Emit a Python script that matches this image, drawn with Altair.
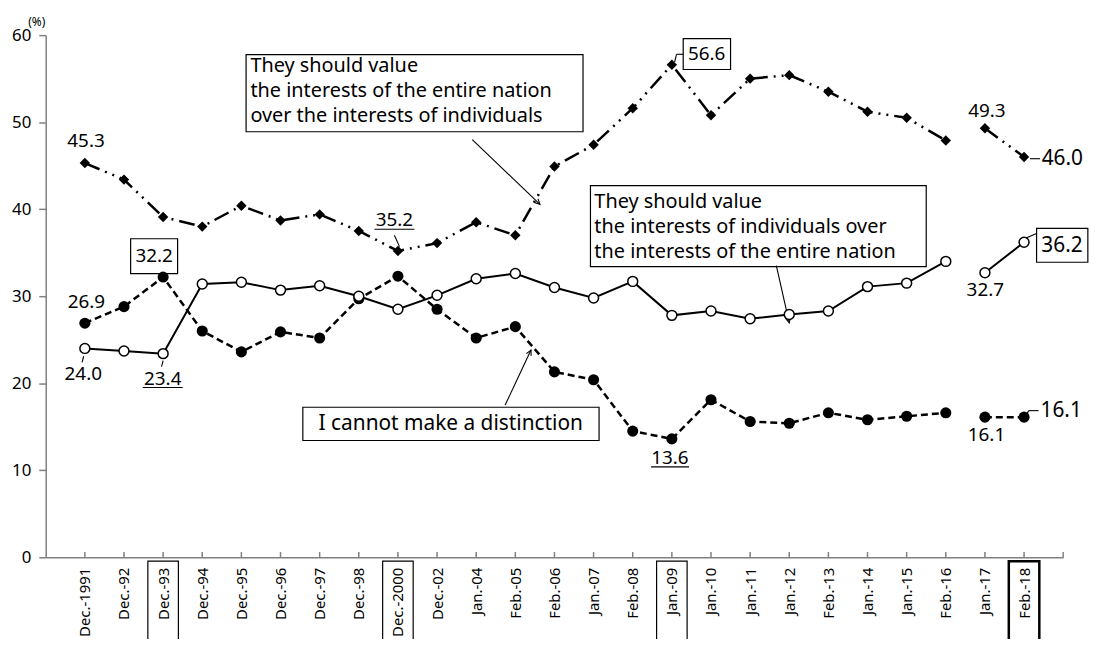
import json, math
import altair as alt
import pandas as pd

# ---------------- data ----------------
labels = ["Dec.-1991", "Dec.-92", "Dec.-93", "Dec.-94", "Dec.-95", "Dec.-96", "Dec.-97",
          "Dec.-98", "Dec.-2000", "Dec.-02", "Jan.-04", "Feb.-05", "Feb.-06", "Jan.-07",
          "Feb.-08", "Jan.-09", "Jan.-10", "Jan.-11", "Jan.-12", "Feb.-13", "Jan.-14",
          "Jan.-15", "Feb.-16", "Jan.-17", "Feb.-18"]
nation = [45.3, 43.4, 39.1, 38.0, 40.4, 38.7, 39.4, 37.5, 35.2, 36.1, 38.5, 37.0, 44.9,
          47.4, 51.6, 56.6, 50.8, 55.0, 55.4, 53.5, 51.2, 50.5, 47.9, 49.3, 46.0]
individuals = [24.0, 23.7, 23.4, 31.4, 31.6, 30.7, 31.2, 30.0, 28.5, 30.1, 32.0, 32.6, 31.0,
               29.8, 31.7, 27.8, 28.3, 27.4, 27.9, 28.3, 31.1, 31.5, 34.0, 32.7, 36.2]
cannot = [26.9, 28.8, 32.2, 26.0, 23.6, 25.9, 25.2, 29.7, 32.3, 28.5, 25.2, 26.5, 21.3,
          20.4, 14.5, 13.6, 18.1, 15.6, 15.4, 16.6, 15.8, 16.2, 16.6, 16.1, 16.1]
break_after = 22  # survey series break between Feb.-16 and Jan.-17
highlighted = ["Dec.-93", "Dec.-2000", "Jan.-09", "Feb.-18"]

box_texts = {
    "nation": ["They should value", "the interests of the entire nation",
               "over the interests of individuals"],
    "indiv": ["They should value", "the interests of individuals over",
              "the interests of the entire nation"],
    "cannot": ["I cannot make a distinction"],
}

# ---------------- layout / style ----------------
W, H = 1025, 526
XS = alt.Scale(domain=[-1, 25], nice=False, zero=False)
YS = alt.Scale(domain=[0, 60], nice=False, zero=False)
FONT = "Noto Sans"
AX = "#808080"
PXX = W / 26.0
PXY = H / 60.0

label_arr = json.dumps(labels)
XAXIS = alt.Axis(values=list(range(-1, 26)),
                 labelExpr=f"datum.value >= 0 && datum.value <= {len(labels)-1} ? {label_arr}[datum.value] : ''",
                 labelAngle=270, tickSize=0, labelPadding=10, labelFontSize=15,
                 labelFont=FONT, labelColor="black", domainColor=AX, domainWidth=1.5,
                 grid=False, title=None, labelOverlap=False, labelFlush=False)
YAXIS = alt.Axis(values=[0, 10, 20, 30, 40, 50, 60], tickSize=7, labelPadding=8,
                 labelFontSize=17, labelFont=FONT, labelColor="black", domainColor=AX,
                 domainWidth=1.5, tickColor=AX, tickWidth=1.5, grid=False, title=None,
                 labelFlush=False)


def X(f):
    return alt.X(f"{f}:Q", scale=XS, axis=XAXIS)


def Y(f):
    return alt.Y(f"{f}:Q", scale=YS, axis=YAXIS)


rows = []
for name, vals in (("nation", nation), ("indiv", individuals), ("cannot", cannot)):
    for i, v in enumerate(vals):
        rows.append({"series": name, "idx": i, "v": v, "seg": 0 if i <= break_after else 1,
                     "label": labels[i]})
df = pd.DataFrame(rows)

layers = []

# x tick marks (inside)
ticks = pd.DataFrame({"x": list(range(0, 26)), "y0": 0, "y1": 0.6})
layers.append(alt.Chart(ticks).mark_rule(color=AX, strokeWidth=1.5).encode(
    x=X("x"), y=Y("y0"), y2="y1"))

# annotation boxes
boxes = pd.DataFrame([
    {"x1": 4.12, "x2": 12.73, "y1": 48.9, "y2": 57.76},
    {"x1": 12.92, "x2": 21.5, "y1": 33.4, "y2": 42.7},
    {"x1": 5.57, "x2": 13.14, "y1": 13.42, "y2": 17.24},
    {"x1": 1.17, "x2": 2.37, "y1": 32.6, "y2": 36.6},
    {"x1": 15.29, "x2": 16.5, "y1": 56.05, "y2": 59.6},
    {"x1": 24.32, "x2": 25.63, "y1": 33.9, "y2": 37.8},
])
layers.append(alt.Chart(boxes).mark_rect(fill="white", stroke="black", strokeWidth=1.2).encode(
    x=X("x1"), x2="x2", y=Y("y1"), y2="y2"))

# frames around highlighted x labels
frames = pd.DataFrame([{"x1": labels.index(n) - 0.39, "x2": labels.index(n) + 0.39,
                        "y1": -0.45, "y2": -12, "sw": 2.5 if n == "Feb.-18" else 1.2}
                       for n in highlighted])
layers.append(alt.Chart(frames).mark_rect(fill="white", fillOpacity=0, stroke="black").encode(
    x=X("x1"), x2="x2", y=Y("y1"), y2="y2", strokeWidth=alt.StrokeWidth("sw:Q", scale=None)))

# leader lines / arrow shafts / underlines
segs = pd.DataFrame([
    {"x1": 9.90, "y1": 48.0, "x2": 11.63, "y2": 40.56},
    {"x1": 17.67, "y1": 33.5, "x2": 18.0, "y2": 26.94},
    {"x1": 10.74, "y1": 17.5, "x2": 11.40, "y2": 23.81},
    {"x1": 7.91, "y1": 37.0, "x2": 8.04, "y2": 35.7},
    {"x1": 24.15, "y1": 45.8, "x2": 24.41, "y2": 45.8},
    {"x1": 24.12, "y1": 16.85, "x2": 24.37, "y2": 16.85},
    {"x1": 24.05, "y1": 16.3, "x2": 24.12, "y2": 16.85},
    {"x1": 24.05, "y1": 36.7, "x2": 24.32, "y2": 37.2},
    {"x1": 15.07, "y1": 56.9, "x2": 15.12, "y2": 57.8},
    {"x1": 15.12, "y1": 57.8, "x2": 15.29, "y2": 57.8},
    {"x1": -0.03, "y1": 23.1, "x2": -0.07, "y2": 22.4},
    {"x1": 2.0, "y1": 22.6, "x2": 1.96, "y2": 21.9},
    # underlines
    {"x1": 1.48, "y1": 19.5, "x2": 2.5, "y2": 19.5},
    {"x1": 7.40, "y1": 37.7, "x2": 8.42, "y2": 37.7},
    {"x1": 14.47, "y1": 10.39, "x2": 15.44, "y2": 10.39},
])
layers.append(alt.Chart(segs).mark_rule(color="black", strokeWidth=1.1).encode(
    x=X("x1"), y=Y("y1"), x2="x2", y2="y2"))

# arrowheads
heads = []
for (x1, y1, x2, y2) in [(9.90, 48.0, 11.63, 40.56), (17.67, 33.5, 18.0, 26.94),
                         (10.74, 17.5, 11.40, 23.81)]:
    dx = (x2 - x1) * PXX
    dy = -(y2 - y1) * PXY
    ang = math.degrees(math.atan2(dx, -dy)) % 360
    heads.append({"x": x2, "y": y2, "ang": ang})
layers.append(alt.Chart(pd.DataFrame(heads)).mark_point(
    shape="M-0.5,1L0,0L0.5,1", filled=False, stroke="black", strokeWidth=1.1, size=110,
    opacity=1).encode(x=X("x"), y=Y("y"), angle=alt.Angle("ang:Q", scale=None)))

# series lines
styles = {
    "nation": dict(strokeWidth=2.5, strokeDash=[16, 6, 2, 6, 2, 6]),
    "indiv": dict(strokeWidth=2),
    "cannot": dict(strokeWidth=2.5, strokeDash=[7, 4]),
}
for name in ("nation", "indiv", "cannot"):
    layers.append(alt.Chart(df[df.series == name]).mark_line(color="black", **styles[name]).encode(
        x=X("idx"), y=Y("v"), detail="seg:N"))

# markers
layers.append(alt.Chart(df[df.series == "nation"]).mark_point(
    shape="diamond", filled=True, color="black", size=110, opacity=1).encode(x=X("idx"), y=Y("v")))
layers.append(alt.Chart(df[df.series == "cannot"]).mark_point(
    shape="circle", filled=True, color="black", size=125, opacity=1).encode(x=X("idx"), y=Y("v")))
layers.append(alt.Chart(df[df.series == "indiv"]).mark_point(
    shape="circle", filled=True, fill="white", stroke="black", strokeWidth=1.5, size=100,
    opacity=1).encode(x=X("idx"), y=Y("v")))


def lab(i, series_vals):
    return f"{series_vals[i]:.1f}"


center_labels = pd.DataFrame([
    {"x": 0.03, "y": 47.85, "t": lab(0, nation), "s": 19},
    {"x": 0.04, "y": 29.3, "t": lab(0, cannot), "s": 19},
    {"x": -0.04, "y": 21.0, "t": lab(0, individuals), "s": 19},
    {"x": 1.77, "y": 34.6, "t": lab(2, cannot), "s": 19},
    {"x": 1.99, "y": 20.5, "t": lab(2, individuals), "s": 19},
    {"x": 7.91, "y": 38.7, "t": lab(8, nation), "s": 19},
    {"x": 15.89, "y": 57.85, "t": lab(15, nation), "s": 19},
    {"x": 14.95, "y": 11.35, "t": lab(15, cannot), "s": 19},
    {"x": 23.05, "y": 51.3, "t": lab(23, nation), "s": 19},
    {"x": 23.01, "y": 30.74, "t": lab(23, individuals), "s": 19},
    {"x": 23.04, "y": 14.08, "t": lab(23, cannot), "s": 19},
    {"x": 24.97, "y": 35.8, "t": lab(24, individuals), "s": 21},
    {"x": 9.35, "y": 15.33, "t": box_texts["cannot"][0], "s": 21},
    {"x": -1.23, "y": 61.56, "t": "(%)", "s": 12},
])
layers.append(alt.Chart(center_labels).mark_text(
    font=FONT, color="black", align="center", baseline="middle").encode(
    x=X("x"), y=Y("y"), text="t:N", size=alt.Size("s:Q", scale=None)))

left_labels = pd.DataFrame(
    [{"x": 24.45, "y": 45.8, "t": lab(24, nation), "s": 21},
     {"x": 24.42, "y": 16.85, "t": lab(24, cannot), "s": 21}]
    + [{"x": 4.23, "y": yy, "t": t, "s": 20}
       for yy, t in zip([56.4, 53.55, 50.7], box_texts["nation"])]
    + [{"x": 13.02, "y": yy, "t": t, "s": 20}
       for yy, t in zip([40.85, 37.95, 35.1], box_texts["indiv"])]
)
layers.append(alt.Chart(left_labels).mark_text(
    font=FONT, color="black", align="left", baseline="middle").encode(
    x=X("x"), y=Y("y"), text="t:N", size=alt.Size("s:Q", scale=None)))

chart = alt.layer(*layers).properties(
    width=W, height=H,
    padding={"left": 38, "top": 25, "right": 26, "bottom": 80},
    autosize=alt.AutoSizeParams(type="none"),
    background="white",
).configure_view(stroke=None)

chart.save("out.html", embed_options={"renderer": "svg", "actions": False})
